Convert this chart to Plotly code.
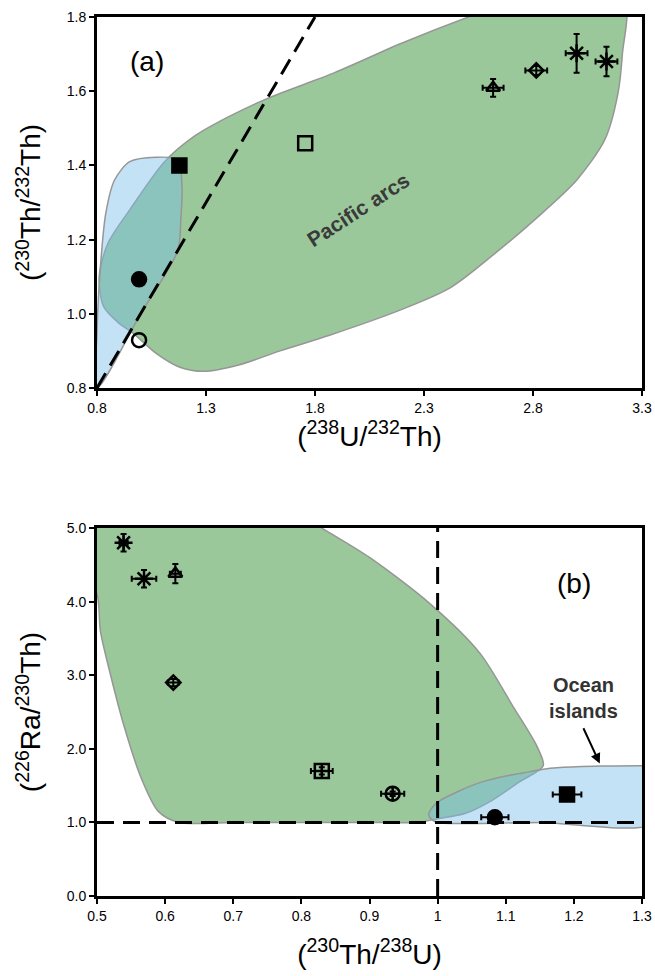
import plotly.graph_objects as go

# ---------------- data: panel (a) ----------------
a_x = [1.178, 1.755, 0.993, 0.993, 2.617, 2.815, 3.00, 3.137]
a_y = [1.400, 1.460, 1.093, 0.929, 1.609, 1.656, 1.702, 1.680]
a_ex = [0, 0, 0, 0, 0.048, 0.05, 0.05, 0.05]
a_ey = [0, 0, 0, 0, 0.024, 0.012, 0.052, 0.04]
a_sym = ["square", "square-open", "circle", "circle-open", "triangle-up-open",
         "diamond-open", "asterisk-open", "asterisk-open"]

# ---------------- data: panel (b) ----------------
b_x = [0.539, 0.569, 0.615, 0.612, 0.830, 0.934, 1.084, 1.190]
b_y = [4.80, 4.31, 4.38, 2.90, 1.70, 1.39, 1.07, 1.38]
b_ex = [0.006, 0.018, 0.008, 0.008, 0.016, 0.017, 0.020, 0.021]
b_ey = [0.12, 0.12, 0.13, 0.05, 0.05, 0.03, 0.03, 0.03]
b_sym = ["asterisk-open", "asterisk-open", "triangle-up-open", "diamond-open",
         "square-cross-open", "circle-cross-open", "circle", "square"]

# field outlines
arc_a_x = [0.81, 0.83, 0.90, 0.965, 1.07, 1.18, 1.29, 1.45, 1.64, 1.87, 2.19, 2.42, 2.62, 2.82, 3.00, 3.13, 3.19, 3.21, 3.22, 3.00, 2.55, 2.20, 1.89, 1.58, 1.40, 1.25, 1.11, 0.95, 0.85, 0.81]
arc_a_y = [1.10, 1.02, 0.975, 0.948, 0.894, 0.856, 0.845, 0.862, 0.90, 0.943, 1.01, 1.07, 1.16, 1.26, 1.36, 1.47, 1.595, 1.70, 1.85, 1.90, 1.81, 1.73, 1.65, 1.58, 1.53, 1.48, 1.41, 1.28, 1.19, 1.10]
oib_a_x = [0.80, 1.00, 1.17, 1.185, 1.19, 1.17, 1.07, 0.95, 0.88, 0.84, 0.815, 0.80, 0.80]
oib_a_y = [0.80, 1.00, 1.17, 1.26, 1.34, 1.415, 1.422, 1.41, 1.36, 1.27, 1.12, 0.95, 0.80]

arc_b_x = [0.50, 0.505, 0.52, 0.54, 0.565, 0.59, 0.62, 0.70, 0.80, 0.90, 0.97, 1.00, 1.04, 1.08, 1.12, 1.155, 1.146, 1.111, 1.062, 0.989, 0.90, 0.83, 0.76, 0.50, 0.47, 0.50]
arc_b_y = [4.10, 3.60, 3.00, 2.30, 1.60, 1.15, 1.00, 1.00, 1.00, 1.00, 1.00, 1.05, 1.12, 1.30, 1.55, 1.77, 2.03, 2.57, 3.30, 3.97, 4.60, 5.00, 5.40, 5.40, 4.60, 4.10]
oib_b_x = [1.00, 1.15, 1.32, 1.32, 1.30, 1.24, 1.18, 1.153, 1.136, 1.10, 1.062, 1.03, 0.999, 0.987, 0.99, 1.00]
oib_b_y = [1.00, 1.00, 1.00, 1.77, 1.77, 1.765, 1.745, 1.72, 1.69, 1.63, 1.54, 1.42, 1.27, 1.12, 1.05, 1.00]

GREEN = "rgb(154,200,154)"
BLUE = "rgba(123,191,233,0.45)"
EDGE = "rgb(150,150,150)"
FONT = "Arial, Liberation Sans, sans-serif"

fig = go.Figure()

def field(x, y, color, xa, ya):
    fig.add_trace(go.Scatter(x=x, y=y, mode="lines", fill="toself", fillcolor=color,
                             line=dict(color=EDGE, width=1.5, shape="spline", smoothing=0.8),
                             xaxis=xa, yaxis=ya, hoverinfo="skip", showlegend=False))

field(arc_a_x, arc_a_y, GREEN, "x", "y")
field(oib_a_x, oib_a_y, BLUE, "x", "y")
field(arc_b_x, arc_b_y, GREEN, "x2", "y2")
field(oib_b_x, oib_b_y, BLUE, "x2", "y2")

# equiline (a)
fig.add_trace(go.Scatter(x=[0.8, 1.8], y=[0.8, 1.8], mode="lines",
                         line=dict(color="black", width=3, dash="17px,9px"),
                         xaxis="x", yaxis="y", showlegend=False, hoverinfo="skip"))
# equilibrium lines (b)
fig.add_trace(go.Scatter(x=[1.0, 1.0], y=[0, 5], mode="lines",
                         line=dict(color="black", width=3, dash="17px,9px"),
                         xaxis="x2", yaxis="y2", showlegend=False, hoverinfo="skip"))
fig.add_trace(go.Scatter(x=[0.5, 1.3], y=[1.0, 1.0], mode="lines",
                         line=dict(color="black", width=3, dash="17px,9px"),
                         xaxis="x2", yaxis="y2", showlegend=False, hoverinfo="skip"))

def pts(x, y, ex, ey, sym, xa, ya):
    for i in range(len(x)):
        s = sym[i]
        size = 14
        if "asterisk" in s:
            size = 15
        elif "triangle" in s:
            size = 12
        elif "diamond" in s:
            size = 11
        fig.add_trace(go.Scatter(
            x=[x[i]], y=[y[i]], mode="markers",
            marker=dict(symbol=s, size=size, color="black",
                        line=dict(color="black", width=2.5)),
            error_x=dict(type="data", array=[ex[i]], visible=ex[i] > 0,
                         color="black", thickness=2, width=3),
            error_y=dict(type="data", array=[ey[i]], visible=ey[i] > 0,
                         color="black", thickness=2, width=3),
            xaxis=xa, yaxis=ya, showlegend=False))

pts(a_x, a_y, a_ex, a_ey, a_sym, "x", "y")
pts(b_x, b_y, b_ex, b_ey, b_sym, "x2", "y2")

axis_common = dict(showline=True, linecolor="black", linewidth=3, mirror=True,
                   ticks="outside", ticklen=5, tickwidth=2, tickcolor="black",
                   showgrid=False, zeroline=False, automargin=False,
                   tickfont=dict(family=FONT, size=14, color="black"))

a_xt = [0.8, 1.3, 1.8, 2.3, 2.8, 3.3]
a_yt = [0.8, 1.0, 1.2, 1.4, 1.6, 1.8]
b_xt = [0.5, 0.6, 0.7, 0.8, 0.9, 1.0, 1.1, 1.2, 1.3]
b_xl = ["0.5", "0.6", "0.7", "0.8", "0.9", "1", "1.1", "1.2", "1.3"]
b_yt = [0, 1, 2, 3, 4, 5]

top_bottom = (976 - 80 - 388) / (976 - 80 - 17)
bot_top = (976 - 80 - 528) / (976 - 80 - 17)

fig.update_layout(
    width=655, height=976,
    margin=dict(l=97, r=13, t=17, b=80),
    paper_bgcolor="white", plot_bgcolor="white",
    xaxis=dict(axis_common, range=[0.8, 3.3], tickvals=a_xt,
               ticktext=[f"{v:.1f}" for v in a_xt], domain=[0, 1], anchor="y",
               title=dict(text="(<sup>238</sup>U/<sup>232</sup>Th)", standoff=8,
                          font=dict(family=FONT, size=28, color="black"))),
    yaxis=dict(axis_common, range=[0.8, 1.8], tickvals=a_yt,
               ticktext=[f"{v:.1f}" for v in a_yt], domain=[top_bottom, 1], anchor="x",
               title=dict(text="(<sup>230</sup>Th/<sup>232</sup>Th)", standoff=18,
                          font=dict(family=FONT, size=28, color="black"))),
    xaxis2=dict(axis_common, range=[0.5, 1.3], tickvals=b_xt, ticktext=b_xl,
                domain=[0, 1], anchor="y2",
                title=dict(text="(<sup>230</sup>Th/<sup>238</sup>U)", standoff=22,
                           font=dict(family=FONT, size=28, color="black"))),
    yaxis2=dict(axis_common, range=[0, 5], tickvals=b_yt,
                ticktext=[f"{v:.1f}" for v in b_yt], domain=[0, bot_top], anchor="x2",
                title=dict(text="(<sup>226</sup>Ra/<sup>230</sup>Th)", standoff=18,
                           font=dict(family=FONT, size=28, color="black"))),
    annotations=[
        dict(x=1.03, y=1.68, xref="x", yref="y", text="(a)", showarrow=False,
             font=dict(family=FONT, size=28, color="black")),
        dict(x=2.0, y=1.28, xref="x", yref="y", text="<b>Pacific arcs</b>", showarrow=False,
             textangle=-33, font=dict(family=FONT, size=21, color="#3a3a3a")),
        dict(x=1.20, y=4.25, xref="x2", yref="y2", text="(b)", showarrow=False,
             font=dict(family=FONT, size=28, color="black")),
        dict(x=1.214, y=2.69, xref="x2", yref="y2", text="<b>Ocean<br>islands</b>",
             showarrow=False, font=dict(family=FONT, size=20, color="#333333")),
        dict(x=1.238, y=1.80, xref="x2", yref="y2", ax=1.213, ay=2.30,
             axref="x2", ayref="y2", text="", showarrow=True, arrowhead=2,
             arrowsize=1, arrowwidth=2, arrowcolor="black"),
    ],
)

fig.write_html("out.html")
